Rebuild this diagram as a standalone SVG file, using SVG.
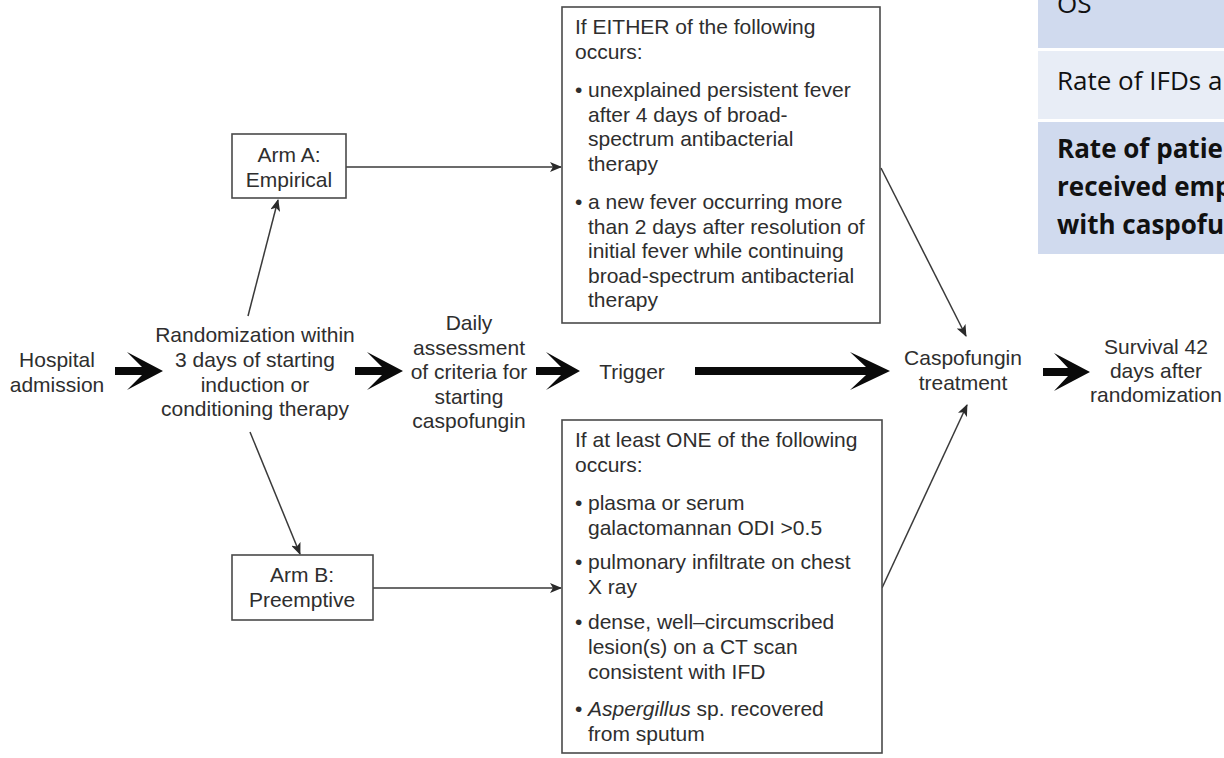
<svg xmlns="http://www.w3.org/2000/svg" width="1224" height="758" viewBox="0 0 1224 758">
<defs>
<marker id="ah" viewBox="0 0 12 10" refX="11" refY="5" markerWidth="12" markerHeight="10" markerUnits="userSpaceOnUse" orient="auto">
<path d="M0,0 L12,5 L0,10 L3,5 Z" fill="#2a2a2a"/>
</marker>
<style>
.t{font-family:"Liberation Sans",Arial,sans-serif;font-size:21px;fill:#2e2e2e}
.c{text-anchor:middle}
.box{fill:#fff;stroke:#4a4a4a;stroke-width:1.6}
.thin{stroke:#3a3a3a;stroke-width:1.5;fill:none;marker-end:url(#ah)}
.big{fill:#0a0a0a}
.tb{font-family:"Open Sans","Noto Sans",sans-serif;font-size:26px;fill:#111}
.b{font-weight:bold}
</style>
</defs>
<rect width="1224" height="758" fill="#fff"/>

<g id="table">
<rect x="1038" y="0" width="186" height="48" fill="#d0daee"/>
<rect x="1038" y="51" width="186" height="68" fill="#e8edf6"/>
<rect x="1038" y="122" width="186" height="132" fill="#d0daee"/>
<text class="tb" x="1057" y="13">OS</text>
<text class="tb" x="1057" y="90">Rate of IFDs a</text>
<text class="tb b" x="1057" y="158">Rate of patie</text>
<text class="tb b" x="1057" y="196">received emp</text>
<text class="tb b" x="1057" y="234">with caspofu</text>
</g>

<g id="connectors">
<path class="big" d="M115,367 H142 L127,352 L163,371 L127,390 L142,375 H115 Z"/>
<path class="big" d="M355,367 H382 L367,352 L403,371 L367,390 L382,375 H355 Z"/>
<path class="big" d="M536,367 H561 L546,352 L580,371 L546,390 L561,375 H536 Z"/>
<path class="big" d="M695,367 H866 L850,352 L890,371 L850,390 L866,375 H695 Z"/>
<path class="big" d="M1043,368 H1068 L1054,353 L1090,372 L1054,391 L1068,376 H1043 Z"/>
<line class="thin" x1="248" y1="316" x2="278" y2="200"/>
<line class="thin" x1="250" y1="432" x2="300" y2="554"/>
<line class="thin" x1="346" y1="167" x2="561" y2="167"/>
<line class="thin" x1="373" y1="588" x2="561" y2="588"/>
<line class="thin" x1="881" y1="168" x2="966" y2="336"/>
<line class="thin" x1="882" y1="588" x2="967" y2="405"/>
</g>

<g id="hospital">
<text class="t c" x="57" y="367">Hospital</text>
<text class="t c" x="57" y="391.5">admission</text>
</g>

<g id="randomization">
<text class="t c" x="255" y="342">Randomization within</text>
<text class="t c" x="255" y="367">3 days of starting</text>
<text class="t c" x="255" y="391.5">induction or</text>
<text class="t c" x="255" y="416">conditioning therapy</text>
</g>

<g id="armA">
<rect class="box" x="232" y="134" width="114" height="64"/>
<text class="t c" x="289" y="162">Arm A:</text>
<text class="t c" x="289" y="187">Empirical</text>
</g>

<g id="armB">
<rect class="box" x="232" y="555" width="141" height="65"/>
<text class="t c" x="302" y="582">Arm B:</text>
<text class="t c" x="302" y="607">Preemptive</text>
</g>

<g id="daily">
<text class="t c" x="469" y="330">Daily</text>
<text class="t c" x="469" y="354.5">assessment</text>
<text class="t c" x="469" y="379">of criteria for</text>
<text class="t c" x="469" y="403.5">starting</text>
<text class="t c" x="469" y="428">caspofungin</text>
</g>

<g id="trigger">
<text class="t c" x="632" y="379">Trigger</text>
</g>

<g id="criteriaA">
<rect class="box" x="562" y="7" width="318" height="316"/>
<text class="t" x="575" y="34">If EITHER of the following</text>
<text class="t" x="575" y="58.5">occurs:</text>
<text class="t" x="575" y="97">•</text>
<text class="t" x="588" y="97">unexplained persistent fever</text>
<text class="t" x="588" y="121.5">after 4 days of broad-</text>
<text class="t" x="588" y="146">spectrum antibacterial</text>
<text class="t" x="588" y="170.5">therapy</text>
<text class="t" x="575" y="209">•</text>
<text class="t" x="588" y="209">a new fever occurring more</text>
<text class="t" x="588" y="233.5">than 2 days after resolution of</text>
<text class="t" x="588" y="258">initial fever while continuing</text>
<text class="t" x="588" y="282.5">broad-spectrum antibacterial</text>
<text class="t" x="588" y="307">therapy</text>
</g>

<g id="criteriaB">
<rect class="box" x="562" y="420" width="320" height="333"/>
<text class="t" x="575" y="447">If at least ONE of the following</text>
<text class="t" x="575" y="472">occurs:</text>
<text class="t" x="575" y="510">•</text>
<text class="t" x="588" y="510">plasma or serum</text>
<text class="t" x="588" y="534.5">galactomannan ODI &gt;0.5</text>
<text class="t" x="575" y="569">•</text>
<text class="t" x="588" y="569">pulmonary infiltrate on chest</text>
<text class="t" x="588" y="594">X ray</text>
<text class="t" x="575" y="629">•</text>
<text class="t" x="588" y="629">dense, well–circumscribed</text>
<text class="t" x="588" y="654">lesion(s) on a CT scan</text>
<text class="t" x="588" y="679">consistent with IFD</text>
<text class="t" x="575" y="716">•</text>
<text class="t" x="588" y="716"><tspan font-style="italic">Aspergillus</tspan> sp. recovered</text>
<text class="t" x="588" y="741">from sputum</text>
</g>

<g id="caspofungin">
<text class="t c" x="963" y="365">Caspofungin</text>
<text class="t c" x="963" y="390">treatment</text>
</g>

<g id="survival">
<text class="t c" x="1156" y="354">Survival 42</text>
<text class="t c" x="1156" y="378">days after</text>
<text class="t c" x="1156" y="402">randomization</text>
</g>
</svg>
